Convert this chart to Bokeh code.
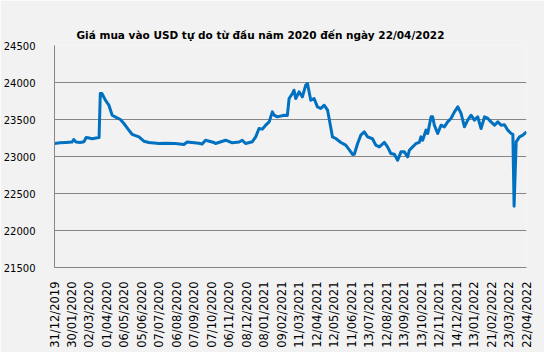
import math
from bokeh.plotting import figure
from bokeh.models import Range1d, FixedTicker, Title
from bokeh.embed import file_html
from bokeh.resources import INLINE

title_text = "Giá mua vào USD tự do từ đầu năm 2020  đến ngày 22/04/2022"

date_labels = ["31/12/2019", "30/01/2020", "02/03/2020", "01/04/2020", "06/05/2020",
               "05/06/2020", "07/07/2020", "06/08/2020", "07/09/2020", "07/10/2020",
               "06/11/2020", "08/12/2020", "08/01/2021", "09/02/2021", "11/03/2021",
               "12/04/2021", "12/05/2021", "11/06/2021", "13/07/2021", "12/08/2021",
               "13/09/2021", "13/10/2021", "12/11/2021", "14/12/2021", "13/01/2022",
               "21/02/2022", "23/03/2022", "22/04/2022"]

y_ticks = [21500, 22000, 22500, 23000, 23500, 24000, 24500]

# position measured in label intervals (0 = 31/12/2019 ... 27 = 22/04/2022)
pos = [0.00, 0.32, 0.66, 1.00, 1.10, 1.23, 1.46, 1.69, 1.81, 1.98,
       2.15, 2.38, 2.55, 2.62, 2.72, 2.91, 3.11, 3.30, 3.58, 3.77,
       3.97, 4.25, 4.44, 4.83, 5.11, 5.40, 5.97, 6.35, 6.92, 7.40,
       7.59, 8.26, 8.45, 8.64, 9.12, 9.21, 9.79, 10.17, 10.56, 10.74,
       10.93, 11.32, 11.51, 11.70, 11.89, 12.08, 12.28, 12.46, 12.56, 12.75,
       13.13, 13.32, 13.42, 13.61, 13.70, 13.80, 13.99, 14.18, 14.37, 14.47,
       14.66, 14.85, 15.04, 15.23, 15.43, 15.62, 15.71, 15.90, 16.09, 16.38,
       16.66, 16.95, 17.05, 17.15, 17.34, 17.52, 17.72, 17.91, 18.19, 18.38,
       18.58, 18.87, 19.05, 19.24, 19.44, 19.63, 19.82, 20.01, 20.20, 20.30,
       20.49, 20.68, 20.87, 20.96, 21.06, 21.25, 21.35, 21.54, 21.63, 21.73,
       21.92, 22.11, 22.30, 22.49, 22.68, 22.88, 23.07, 23.26, 23.45, 23.64,
       23.83, 24.02, 24.21, 24.40, 24.60, 24.79, 24.97, 25.17, 25.36, 25.55,
       25.74, 25.93, 26.12, 26.22, 26.29, 26.41, 26.60, 26.79, 27.00]

price = [23176, 23185, 23190, 23195, 23230, 23195, 23190, 23200, 23257, 23250,
         23240, 23250, 23255, 23851, 23850, 23761, 23693, 23558, 23522, 23500,
         23446, 23356, 23300, 23265, 23207, 23190, 23176, 23180, 23176, 23162,
         23195, 23180, 23170, 23220, 23190, 23176, 23220, 23185, 23195, 23220,
         23176, 23200, 23265, 23378, 23370, 23423, 23468, 23603, 23560, 23536,
         23558, 23555, 23784, 23851, 23896, 23784, 23874, 23806, 23964, 23986,
         23761, 23784, 23671, 23649, 23693, 23626, 23514, 23265, 23243, 23190,
         23153, 23063, 23027, 23030, 23176, 23288, 23333, 23265, 23240, 23153,
         23130, 23190, 23130, 23040, 23030, 22950, 23063, 23063, 22995, 23085,
         23130, 23176, 23190, 23265, 23220, 23356, 23311, 23536, 23536, 23423,
         23311, 23423, 23400, 23468, 23514, 23603, 23671, 23581, 23401, 23491,
         23558, 23491, 23536, 23378, 23536, 23514, 23468, 23423, 23468, 23423,
         23430, 23356, 23311, 23300, 22328, 23198, 23265, 23288, 23333]

BG = "#F2F2F2"
GRID = "#868686"

p = figure(width=544, height=352, output_backend="svg", toolbar_location=None,
           x_range=Range1d(0, 27), y_range=Range1d(21500, 24500),
           min_border_left=54, min_border_right=18, min_border_top=45,
           min_border_bottom=85)

p.background_fill_color = BG
p.border_fill_color = BG
p.outline_line_color = None

# real title, then an invisible spacer between it and the frame
p.add_layout(Title(text=title_text, text_font="DejaVu Sans", text_font_size="10.5px",
                   text_font_style="bold", text_color="#000000", align="left",
                   offset=22), "above")
p.add_layout(Title(text=".", text_font_size="10px", text_color=BG, text_alpha=0,
                   standoff=0), "above")

p.line(pos, price, line_color="#0070C0", line_width=3, line_join="round")

p.xgrid.visible = False
p.ygrid.grid_line_color = GRID
p.ygrid.grid_line_width = 1
p.yaxis.ticker = FixedTicker(ticks=y_ticks)
p.yaxis.major_label_text_font = "DejaVu Sans"
p.yaxis.major_label_text_font_size = "10px"
p.yaxis.major_label_text_color = "#000000"
p.yaxis.major_tick_line_color = None
p.yaxis.minor_tick_line_color = None
p.yaxis.axis_line_color = GRID
p.yaxis.major_label_standoff = 13

p.xaxis.ticker = FixedTicker(ticks=list(range(len(date_labels))))
p.xaxis.major_label_overrides = {i: lab for i, lab in enumerate(date_labels)}
p.xaxis.major_label_orientation = math.pi / 2
p.xaxis.major_label_text_font = "DejaVu Sans"
p.xaxis.major_label_text_font_size = "11.5px"
p.xaxis.major_label_text_color = "#000000"
p.xaxis.major_tick_line_color = None
p.xaxis.minor_tick_line_color = None
p.xaxis.axis_line_color = GRID
p.xaxis.major_label_standoff = 8

open("out.html", "w").write(file_html(p, INLINE))
